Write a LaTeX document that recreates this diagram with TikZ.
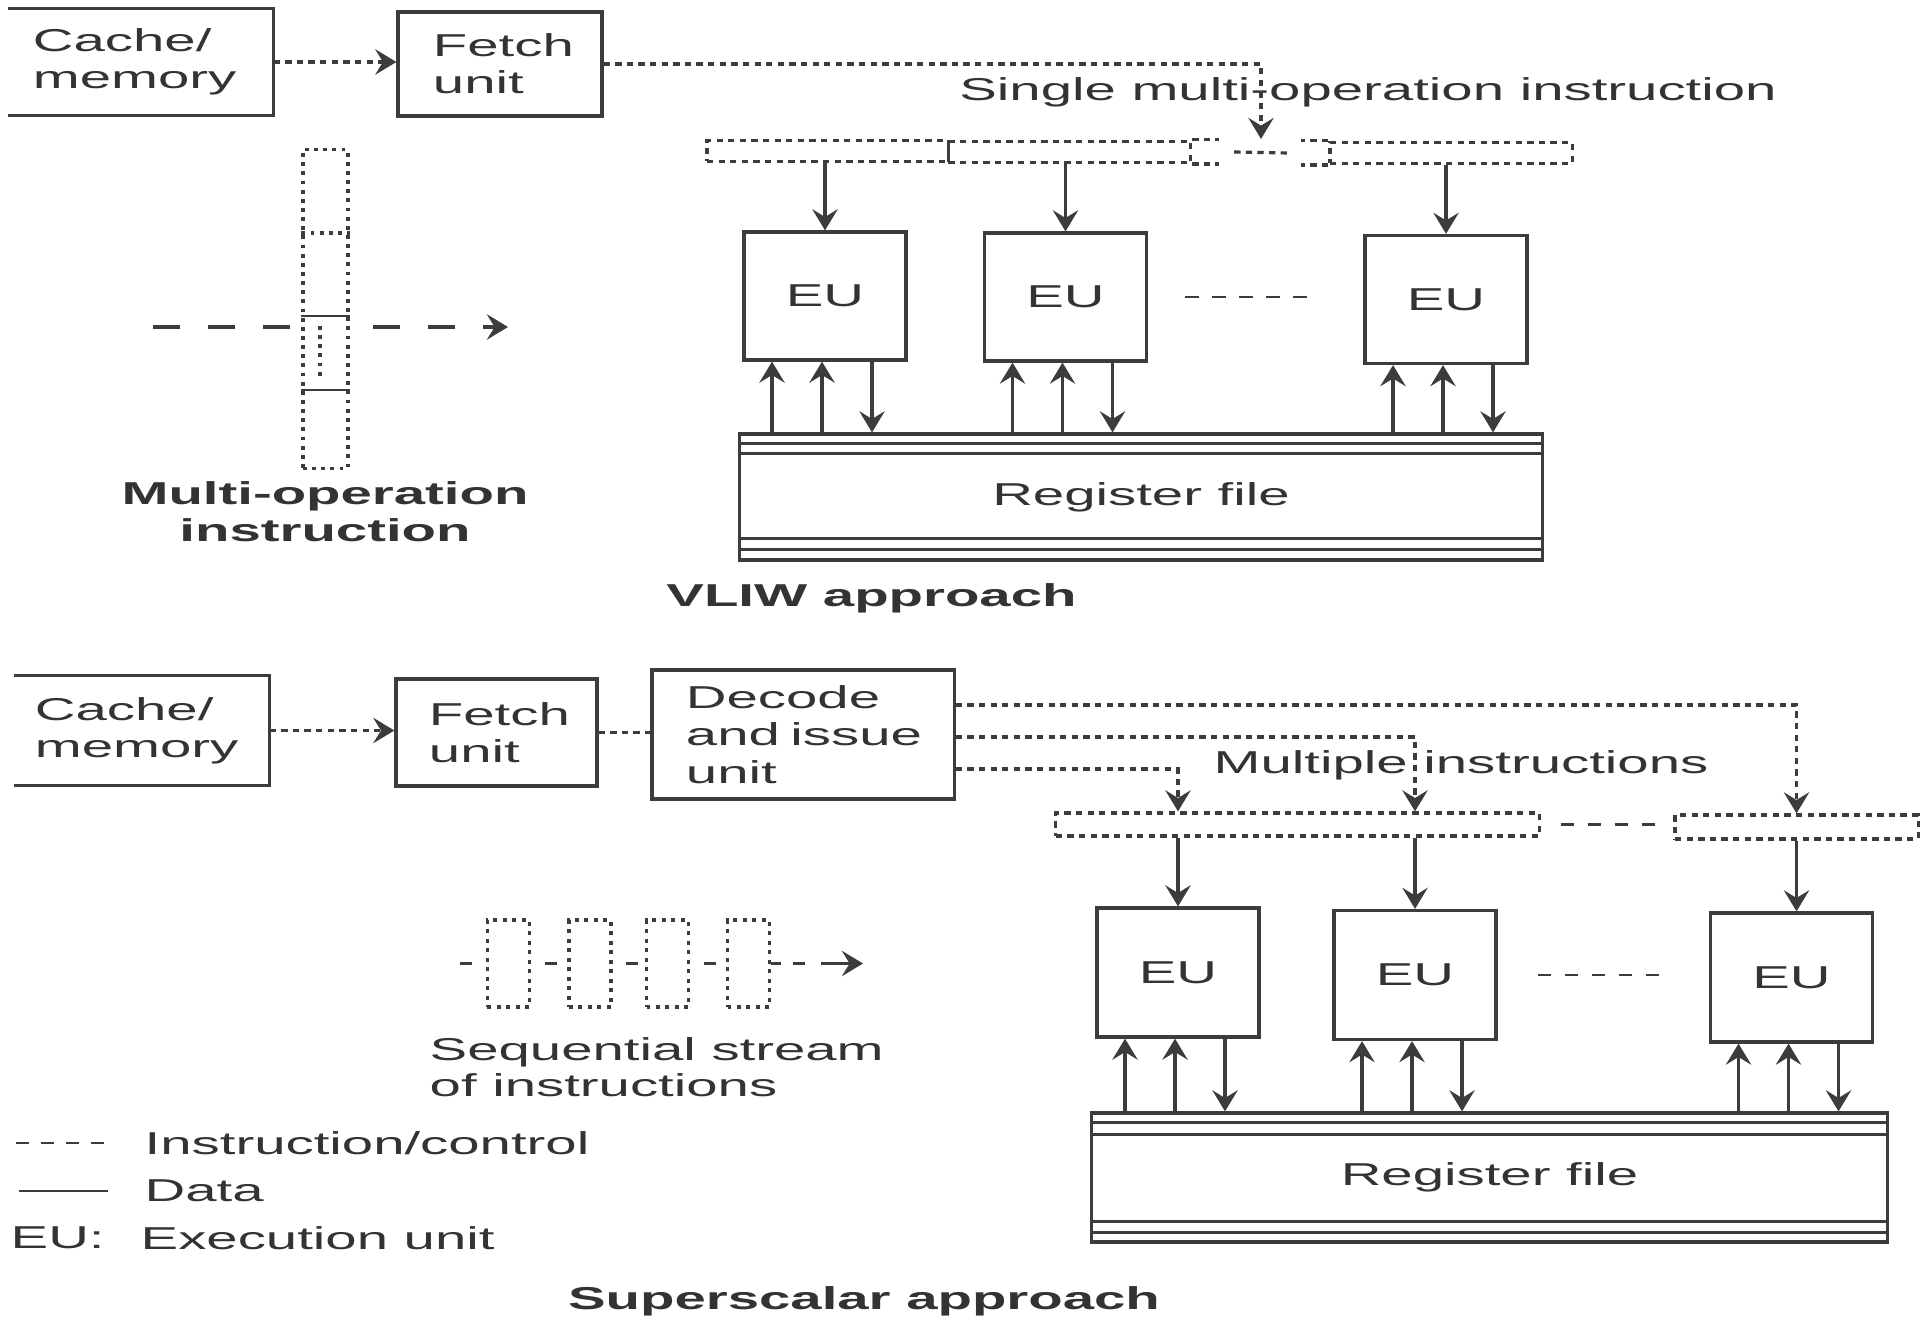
\documentclass[tikz,border=0pt]{standalone}
\usepackage{fontspec}
\setmainfont{Liberation Sans}[FakeStretch=1.78]
\usetikzlibrary{arrows.meta}
\definecolor{ink}{HTML}{3C3C3C}
\definecolor{txt}{HTML}{333333}
\begin{document}
\begin{tikzpicture}[x=0.01cm, y=-0.01cm,
  every node/.style={font=\fontsize{9}{10.6}\selectfont, text=txt, inner sep=0pt},
  arr/.style={-{Stealth[length=6pt,width=7.2pt,inset=2.2pt]}},
  boxline/.style={draw=ink, line width=0.9pt},
  box/.style={boxline, shape=rectangle},
  tbox/.style={box, align=left},
  eubox/.style={box, minimum width=1.62cm, minimum height=1.28cm},
  dotpat/.style={dash pattern=on 1.8pt off 1.5pt},
  dotline/.style={draw=ink, line width=0.9pt, dotpat},
  slotbox/.style={dotline, shape=rectangle, minimum height=0.21cm},
  dataline/.style={draw=ink, line width=0.9pt, arr},
  dashline/.style={draw=ink, line width=0.8pt, dash pattern=on 3.8pt off 3.9pt},
  bold/.style={font=\fontsize{9}{10.5}\selectfont\bfseries}
]
\useasboundingbox (0,0) rectangle (1928,1319);

% ================= VLIW (top) =================
\node[tbox, draw=none, minimum width=2.62cm, minimum height=1.04cm, inner xsep=0.23cm, text width=2.16cm] (cm1) at (141,62) {Cache/\\memory};
\draw[boxline] (cm1.north west) -- (cm1.north east) -- (cm1.south east) -- (cm1.south west);
\node[tbox, minimum width=2.04cm, minimum height=1.04cm, inner xsep=0.35cm, text width=1.34cm] (fe1) at (500,64) {Fetch\\unit};
\draw[dotline, arr] (cm1.east) -- (cm1.east -| fe1.west);

% instruction slots
\node[slotbox, minimum width=2.41cm] (sA) at (827.5,151) {};
\node[slotbox, minimum width=2.42cm] (sB) at (1069.5,152) {};
\node[slotbox, minimum width=2.42cm] (sC) at (1451,153) {};
\draw[dotline] (sB.north east) -- ++(27,0);
\draw[dotline] (sB.south east) -- ++(27,0);
\draw[dotline] (sC.north west) -- ++(-27,0);
\draw[dotline] (sC.south west) -- ++(-27,0);
\draw[dotline] ([xshift=0.42cm]sB.east) -- ([xshift=-0.4cm]sC.west);

\coordinate (tA) at (1261,139);
\node (lab1) at (1368,92) {Single multi-operation instruction};
\draw[dotline, arr] (fe1.east) -| (tA);

% execution units
\node[eubox] (e1) at (825,296) {EU};
\node[eubox] (e2) at (1065.5,297) {EU};
\node[eubox] (e3) at (1446,299.5) {EU};
\draw[dataline] (sA.south -| e1.north) -- (e1.north);
\draw[dataline] (sB.south -| e2.north) -- (e2.north);
\draw[dataline] (sC.south -| e3.north) -- (e3.north);
\draw[dashline, shorten <=0.37cm, shorten >=0.5cm] (e2.east) -- (e2.east -| e3.west);

% register file
\node[box, minimum width=8.02cm, minimum height=1.26cm] (reg1) at (1141,497) {Register file};
\draw[boxline] ([yshift=-0.11cm]reg1.north west) -- ([yshift=-0.11cm]reg1.north east);
\draw[boxline] ([yshift=-0.21cm]reg1.north west) -- ([yshift=-0.21cm]reg1.north east);
\draw[boxline] ([yshift=0.23cm]reg1.south west) -- ([yshift=0.23cm]reg1.south east);
\draw[boxline] ([yshift=0.12cm]reg1.south west) -- ([yshift=0.12cm]reg1.south east);

% multi-operation instruction (left)
\coordinate (da1) at (153,327);
\coordinate (da2) at (508,327);
\draw[draw=ink, line width=0.9pt, dash pattern=on 0.27cm off 0.28cm, arr] (da1) -- (da2);
\node[draw=ink, line width=0.9pt, dash pattern=on 1.1pt off 1.5pt, shape=rectangle, fill=white, minimum width=0.45cm, minimum height=3.18cm] (mop) at (325.5,309) {};
\draw[draw=ink, line width=0.9pt, dash pattern=on 1.1pt off 1.5pt] (mop.west |- 0,233) -- (mop.east |- 0,233);
\draw[draw=ink, line width=0.7pt] (mop.west |- 0,316) -- (mop.east |- 0,316);
\draw[draw=ink, line width=0.7pt] (mop.west |- 0,390) -- (mop.east |- 0,390);
\draw[draw=ink, line width=0.9pt, dash pattern=on 1.1pt off 1.5pt] (320,326) -- (320,379);
\node[bold, align=center] (moplab) at (325,512) {Multi-operation\\instruction};
\node[bold] (vliw) at (871.5,598) {VLIW approach};

% ================= Superscalar (bottom) =================
\node[tbox, draw=none, minimum width=2.52cm, minimum height=1.07cm, inner xsep=0.19cm, text width=2.14cm] (cm2) at (142,730.5) {Cache/\\memory};
\draw[boxline] (cm2.north west) -- (cm2.north east) -- (cm2.south east) -- (cm2.south west);
\node[tbox, minimum width=2.01cm, minimum height=1.07cm, inner xsep=0.33cm, text width=1.35cm] (fe2) at (496.5,732.5) {Fetch\\unit};
\node[tbox, minimum width=3.02cm, minimum height=1.29cm, inner xsep=0.34cm, text width=2.34cm] (de) at (803,734.5) {Decode\\\mbox{and issue}\\unit};
\draw[dotline, arr] (cm2.east) -- (cm2.east -| fe2.west);
\draw[dotline] (fe2.east) -- (fe2.east -| de.west);

% execution units
\node[eubox, minimum height=1.29cm] (f1) at (1178,972.5) {EU};
\node[eubox, minimum height=1.29cm] (f2) at (1415,975) {EU};
\node[eubox, minimum height=1.29cm] (f3) at (1791.5,977.5) {EU};

% slots
\node[slotbox, minimum width=4.83cm, minimum height=0.23cm] (sb1) at (1297.5,824.5) {};
\node[slotbox, minimum width=2.43cm, minimum height=0.24cm] (sb2) at (1796.5,827) {};
\draw[dashline, shorten <=0.2cm, shorten >=0.18cm] (sb1.east) -- (sb1.east -| sb2.west);
\coordinate (t1) at (sb1.north -| f1.north);
\coordinate (t2) at (sb1.north -| f2.north);

\node (lab2) at (1461,765) {Multiple instructions};
\draw[dotline, arr] ([yshift=0.295cm]de.east) -| (sb2.north);
\draw[dotline, arr] ([yshift=-0.025cm]de.east) -| (t2);
\draw[dotline, arr] ([yshift=-0.345cm]de.east) -| (t1);

\draw[dataline] (sb1.south -| f1.north) -- (f1.north);
\draw[dataline] (sb1.south -| f2.north) -- (f2.north);
\draw[dataline] (sb2.south) -- (sb2.south |- f3.north);
\draw[dashline, shorten <=0.4cm, shorten >=0.5cm] (f2.east) -- (f2.east -| f3.west);

% register file
\node[box, minimum width=7.95cm, minimum height=1.29cm] (reg2) at (1489.5,1177.5) {Register file};
\draw[boxline] ([yshift=-0.11cm]reg2.north west) -- ([yshift=-0.11cm]reg2.north east);
\draw[boxline] ([yshift=-0.23cm]reg2.north west) -- ([yshift=-0.23cm]reg2.north east);
\draw[boxline] ([yshift=0.22cm]reg2.south west) -- ([yshift=0.22cm]reg2.south east);
\draw[boxline] ([yshift=0.11cm]reg2.south west) -- ([yshift=0.11cm]reg2.south east);

% data arrows EU <-> register file
\foreach \e/\r in {e1/reg1,e2/reg1,e3/reg1,f1/reg2,f2/reg2,f3/reg2}{
  \path (\e.south) ++(-53,0) coordinate (u\e) ++(50,0) coordinate (v\e) ++(50,0) coordinate (w\e);
  \draw[dataline] (u\e |- \r.north) -- (u\e);
  \draw[dataline] (v\e |- \r.north) -- (v\e);
  \draw[dataline] (w\e) -- (w\e |- \r.north);
}

% sequential stream of instructions
\coordinate (qs) at (460,963.5);
\coordinate (qe) at (863,963.5);
\foreach \n/\x in {q1/508.5,q2/590,q3/667.5,q4/748.5}{
  \node[draw=ink, line width=0.9pt, dash pattern=on 1.1pt off 1.6pt, shape=rectangle, minimum width=0.42cm, minimum height=0.87cm] (\n) at (\x,963.5) {};
}
\draw[draw=ink, line width=0.8pt, dash pattern=on 0.12cm off 2cm] (qs) -- (q1.west);
\draw[draw=ink, line width=0.8pt, dash pattern=on 0pt off 0.135cm on 0.12cm off 2cm] (q1.east) -- (q2.west);
\draw[draw=ink, line width=0.8pt, dash pattern=on 0pt off 0.135cm on 0.12cm off 2cm] (q2.east) -- (q3.west);
\draw[draw=ink, line width=0.8pt, dash pattern=on 0pt off 0.135cm on 0.12cm off 2cm] (q3.east) -- (q4.west);
\draw[draw=ink, line width=0.8pt, dash pattern=on 0.1cm off 0.12cm on 0.12cm off 0.16cm on 2cm, arr] (q4.east) -- (qe);
\node[align=left, anchor=west, font=\fontsize{9}{10.2}\selectfont] (seq) at (429,1067.5) {Sequential stream\\of instructions};

% legend
\coordinate (l1a) at (16,1143);
\coordinate (l1b) at (108,1143);
\coordinate (l2a) at (19,1191);
\coordinate (l2b) at (108,1191);
\draw[draw=ink, line width=0.8pt, dash pattern=on 0.13cm off 0.12cm] (l1a) -- (l1b);
\draw[draw=ink, line width=0.8pt] (l2a) -- (l2b);
\node[anchor=west] (lt1) at (144,1143) {Instruction/control};
\node[anchor=west] (lt2) at (144,1191) {Data};
\node[anchor=west] (lt3) at (10,1238) {EU:};
\node[anchor=west] (lt4) at (140,1238) {Execution unit};

\node[bold] (ssc) at (864,1301) {Superscalar approach};
\end{tikzpicture}
\end{document}
